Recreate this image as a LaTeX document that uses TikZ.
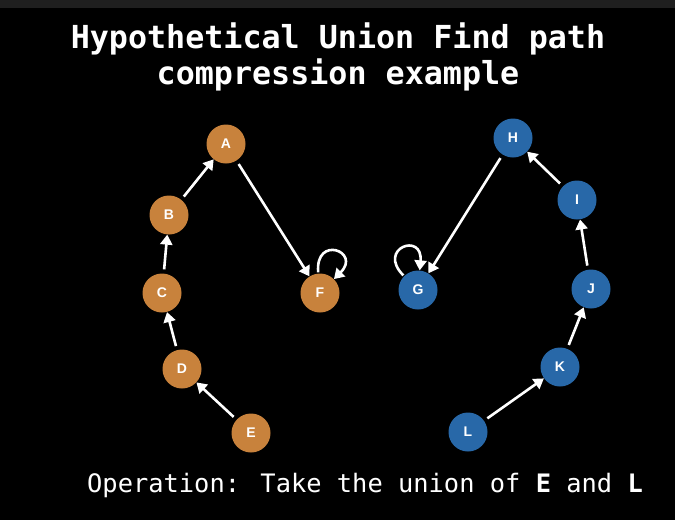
\documentclass[tikz,border=0pt]{standalone}
\usepackage{fontspec}
\setmainfont{Liberation Sans}
\newfontfamily\monofont{DejaVu Sans Mono}
\usepackage{tikz}
\usetikzlibrary{arrows.meta}
\definecolor{setorange}{HTML}{C8823C}
\definecolor{setblue}{HTML}{2868A8}
\definecolor{topbar}{HTML}{1F1F1F}

\begin{document}
\begin{tikzpicture}[x=1pt,y=-1pt,
  uf/.style={circle,minimum size=39pt,inner sep=0pt,text=white,
             font=\fontsize{14}{14}\selectfont\bfseries},
  ufa/.style={uf,fill=setorange},
  ufb/.style={uf,fill=setblue},
  arr/.style={-{Triangle[width=12pt,length=10pt]},line width=2.6pt,white,shorten <=4pt}
]
\useasboundingbox (0,0) rectangle (675,520);
\fill[black] (0,0) rectangle (675,520);
\fill[topbar] (0,0) rectangle (675,8);
\node[text=white,align=center,anchor=base,inner sep=0pt,
      font=\monofont\fontsize{31.7}{36}\selectfont\bfseries] (title) at (338,84)
  {Hypothetical Union Find path\\compression example};
% left set
\node[ufa] (A) at (226,144) {A};
\node[ufa] (B) at (169,215) {B};
\node[ufa] (C) at (162,293) {C};
\node[ufa] (D) at (182,369) {D};
\node[ufa] (E) at (251,433) {E};
\node[ufa] (F) at (320,293) {F};
% right set
\node[ufb] (G) at (418,290) {G};
\node[ufb] (H) at (513,138) {H};
\node[ufb] (I) at (577,200) {I};
\node[ufb] (J) at (591,289) {J};
\node[ufb] (K) at (560,367) {K};
\node[ufb] (L) at (468,432) {L};
\draw[arr] (B) -- (A);
\draw[arr] (C) -- (B);
\draw[arr] (D) -- (C);
\draw[arr] (E) -- (D);
\draw[arr] (A) -- (F);
\draw[arr,shorten <=1pt] (F.95) to[out=95,in=45,looseness=6] (F.45);
\draw[arr] (H) -- (G);
\draw[arr,shorten <=1pt] (G.135) to[out=135,in=85,looseness=6] (G.85);
\draw[arr] (I) -- (H);
\draw[arr] (J) -- (I);
\draw[arr] (K) -- (J);
\draw[arr] (L) -- (K);
\node[text=white,anchor=base west,inner sep=0pt,
      font=\monofont\fontsize{25.4}{30}\selectfont]
  (op) at (87,492) {Operation: Take the union of \textbf{E} and \textbf{L}};
\end{tikzpicture}
\end{document}
